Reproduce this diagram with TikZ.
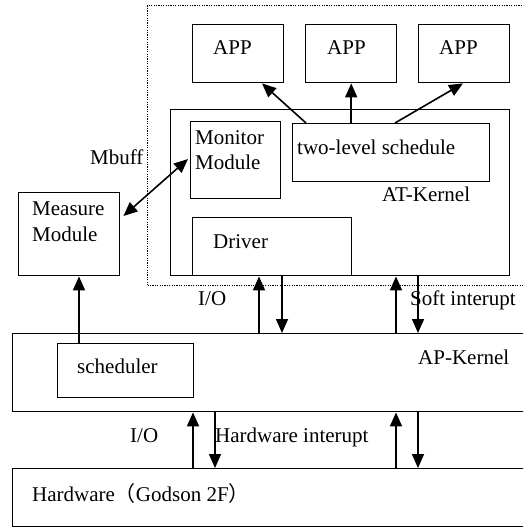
\documentclass[tikz,border=0pt]{standalone}
\usepackage{fontspec}
\setmainfont{Liberation Serif}
\newfontfamily\cjk{Noto Sans CJK SC}
\usetikzlibrary{arrows.meta}
\begin{document}
\begin{tikzpicture}[x=1pt,y=-1pt,
  box/.style={draw,line width=1.4pt,rectangle,inner sep=0pt,anchor=north west},
  txt/.style={anchor=base west,inner sep=0pt,font=\fontsize{21}{25}\selectfont},
  arr/.style={line width=1.6pt,-{Triangle[length=14pt,width=12pt]}},
  darr/.style={line width=1.6pt,{Triangle[length=14pt,width=12pt]}-{Triangle[length=14pt,width=12pt]}},
  dotbox/.style={draw,line width=1.2pt,dash pattern=on 1.2pt off 1.2pt,rectangle,inner sep=0pt,anchor=north west}]
\clip (0,0) rectangle (523,527);
\fill[white] (0,0) rectangle (523,527);
% dotted region
\node[dotbox,minimum width=400pt,minimum height=280pt] (dot) at (147,5) {};
% APP boxes
\node[box,minimum width=91pt,minimum height=58pt] (app1) at (192,24) {};
\node[box,minimum width=91pt,minimum height=58pt] (app2) at (305,24) {};
\node[box,minimum width=91pt,minimum height=58pt] (app3) at (418,24) {};
\node[txt] (t1) at (213,55) {APP};
\node[txt] (t2) at (327,55) {APP};
\node[txt] (t3) at (439,55) {APP};
% AT-Kernel
\node[box,minimum width=339pt,minimum height=166pt] (at) at (170,109) {};
\node[box,minimum width=90pt,minimum height=77pt] (mon) at (190,121) {};
\node[txt] (tmon1) at (195,144) {Monitor};
\node[txt] (tmon2) at (195,169) {Module};
\node[box,minimum width=197pt,minimum height=58pt] (two) at (292,123) {};
\node[txt] (ttwo) at (297,154) {two-level schedule};
\node[txt] (tat) at (382,201) {AT-Kernel};
\node[box,minimum width=159pt,minimum height=58pt] (drv) at (192,217) {};
\node[txt] (tdrv) at (213,248) {Driver};
% Measure
\node[box,minimum width=101pt,minimum height=83pt] (mea) at (18,192) {};
\node[txt] (tmea1) at (32,215) {Measure};
\node[txt] (tmea2) at (32,241) {Module};
\node[txt] (tmb) at (90,164) {Mbuff};
% AP-Kernel
\node[box,minimum width=540pt,minimum height=78pt] (ap) at (12,333) {};
\node[box,minimum width=136pt,minimum height=54pt] (sch) at (57,343) {};
\node[txt] (tsch) at (77,373) {scheduler};
\node[txt] (tap) at (418,364) {AP-Kernel};
% Hardware
\node[box,minimum width=540pt,minimum height=58pt] (hw) at (12,468) {};
\node[txt] (thw) at (32,501) {Hardware{\cjk （}Godson 2F{\cjk ）}};
% labels
\node[txt] (io1) at (198,305) {I/O};
\node[txt] (soft) at (410,305) {Soft interupt};
\node[txt] (io2) at (130,442) {I/O};
\node[txt] (hwi) at (215,442) {Hardware interupt};
% arrows two-level -> APP
\draw[arr] ([shift={(14,0)}]two.north west) -- ([shift={(70,0)}]app1.south west);
\draw[arr] (two.north -| app2.south) -- (app2.south);
\draw[arr] ([shift={(103,0)}]two.north west) -- ([shift={(45,0)}]app3.south west);
% Measure <-> Monitor
\draw[darr] ([shift={(3,24)}]mea.north east) -- ([shift={(-2,38)}]mon.north west);
% scheduler -> Measure
\coordinate (s1) at ([shift={(22,0)}]sch.north west);
\draw[arr] (s1) -- (s1 |- mea.south);
% AP <-> AT
\coordinate (a1) at ([shift={(247,0)}]ap.north west);
\coordinate (a2) at ([shift={(270,0)}]ap.north west);
\coordinate (a3) at ([shift={(384,0)}]ap.north west);
\coordinate (a4) at ([shift={(406,0)}]ap.north west);
\draw[arr] (a1) -- (a1 |- at.south);
\draw[arr] (a2 |- at.south) -- (a2);
\draw[arr] (a3) -- (a3 |- at.south);
\draw[arr] (a4 |- at.south) -- (a4);
% HW <-> AP
\coordinate (h1) at ([shift={(181,0)}]hw.north west);
\coordinate (h2) at ([shift={(203,0)}]hw.north west);
\coordinate (h3) at ([shift={(384,0)}]hw.north west);
\coordinate (h4) at ([shift={(406,0)}]hw.north west);
\draw[arr] (h1) -- (h1 |- ap.south);
\draw[arr] (h2 |- ap.south) -- (h2);
\draw[arr] (h3) -- (h3 |- ap.south);
\draw[arr] (h4 |- ap.south) -- (h4);
\end{tikzpicture}
\end{document}
